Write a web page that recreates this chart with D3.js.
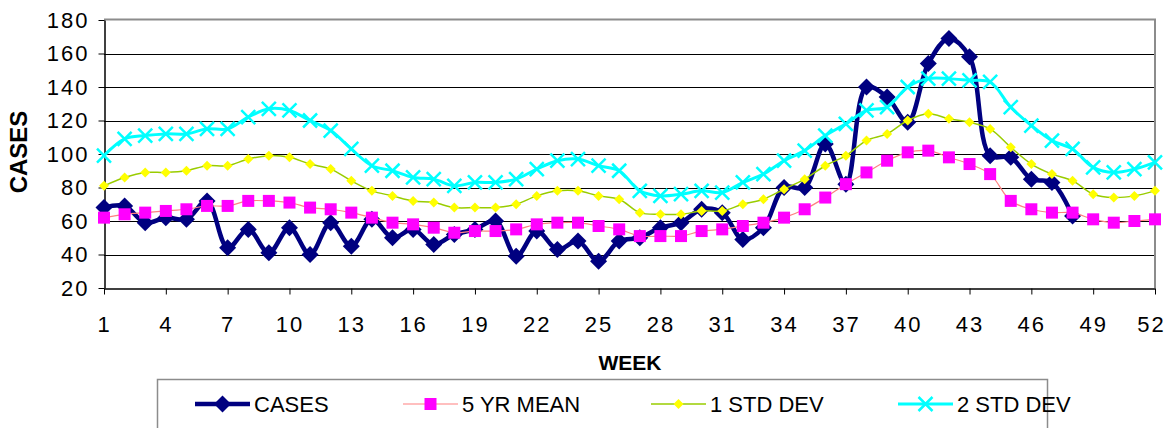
<!DOCTYPE html>
<html>
<head>
<meta charset="utf-8">
<script src="https://cdn.jsdelivr.net/npm/d3@7"></script>
<style>
body { margin: 0; background: #fff; }
text { font-family: "Liberation Sans", Arial, sans-serif; fill: #000; }
</style>
</head>
<body>
<script>
// week numbers and the four series
var weeks = d3.range(1, 53)
var cases = [68, 69, 59, 62, 61, 72, 44, 55, 41, 56, 40, 59, 45, 61, 50, 55, 46, 52, 55, 60,
	39, 54, 43, 48, 36, 48, 50, 56, 59, 67, 65, 49, 56, 80, 80, 106, 82, 140, 134, 119,
	154, 169, 158, 99, 98, 85, 83, 63]
var mean5yr = [62, 64, 65, 66, 67, 69, 69, 72, 72, 71, 68, 67, 65, 62, 59, 58, 56, 53, 54, 54,
	55, 58, 59, 59, 57, 55, 51, 51, 51, 54, 55, 57, 59, 62, 67, 74, 82, 89, 96, 101,
	102, 98, 94, 88, 72, 67, 65, 65, 61, 59, 60, 61]
var std1 = [81, 86, 89, 89, 90, 93, 93, 97, 99, 98, 94, 91, 84, 78, 75, 72, 71, 68, 68, 68,
	70, 75, 78, 78, 75, 73, 65, 64, 64, 66, 66, 70, 73, 79, 85, 93, 99, 108, 112, 120,
	124, 121, 119, 115, 104, 94, 88, 84, 76, 74, 75, 78]
var std2 = [99, 109, 111, 112, 112, 115, 115, 122, 127, 126, 120, 114, 103, 93, 90, 86, 85, 81, 83, 83,
	85, 91, 96, 97, 93, 90, 78, 75, 76, 78, 77, 83, 88, 96, 102, 111, 118, 126, 128, 140,
	145, 145, 144, 143, 128, 117, 108, 103, 92, 89, 91, 95]
var seriesNames = ["CASES", "5 YR MEAN", "1 STD DEV", "2 STD DEV"]
var yTicks = [20, 40, 60, 80, 100, 120, 140, 160, 180]
var xTicks = [1, 4, 7, 10, 13, 16, 19, 22, 25, 28, 31, 34, 37, 40, 43, 46, 49, 52]

var W = 1167, H = 428
// plot area edges (not "top", that one is taken by window.top)
var plotL = 104, plotR = 1155, plotT = 20, plotB = 288

var svg = d3.select("body").append("svg").attr("width", W).attr("height", H)

var x = d3.scaleLinear().domain([1, 52]).range([plotL, plotR])
var y = d3.scaleLinear().domain([20, 180]).range([plotB, plotT])

// gridlines
svg.append("g")
	.selectAll("line")
	.data(yTicks.slice(1, -1))
	.enter()
	.append("line")
	.attr("x1", plotL).attr("x2", plotR)
	.attr("y1", function(d) { return Math.round(y(d)) + 0.5 })
	.attr("y2", function(d) { return Math.round(y(d)) + 0.5 })
	.attr("stroke", "#000").attr("stroke-width", 1)

// plot border top and right (gray)
svg.append("path")
	.attr("d", "M" + plotL + "," + (plotT - 0.5) + "H" + plotR + "V" + plotB)
	.attr("fill", "none").attr("stroke", "#8c8c8c").attr("stroke-width", 2)

// axes
var yAxis = svg.append("g")
	.attr("transform", "translate(" + (plotL + 0.5) + ",0)")
	.call(d3.axisLeft(y).tickValues(yTicks).tickSize(6).tickPadding(10).tickSizeOuter(0))
var xAxis = svg.append("g")
	.attr("transform", "translate(0," + (plotB + 0.5) + ")")
	.call(d3.axisBottom(x).tickValues(xTicks).tickSize(6).tickPadding(22).tickSizeOuter(0))

svg.selectAll(".domain").attr("stroke", "#000").attr("stroke-width", 1.5)
svg.selectAll(".tick line").attr("stroke", "#000")
svg.selectAll(".tick text")
	.style("font-family", "'Liberation Sans', Arial, sans-serif")
	.style("font-size", "22px")
	.style("letter-spacing", "2px")
yAxis.selectAll(".tick text").attr("x", -15)
// last week label sits right at the edge, nudge it in a bit
xAxis.selectAll(".tick text").filter(function(d) { return d === 52 }).attr("dx", -4)

// axis titles
svg.append("text")
	.attr("transform", "translate(27,152) rotate(-90)")
	.attr("text-anchor", "middle")
	.style("font-size", "24px").style("font-weight", "bold")
	.text("CASES")
svg.append("text")
	.attr("x", 630).attr("y", 370)
	.attr("text-anchor", "middle")
	.style("font-size", "21px").style("font-weight", "bold")
	.text("WEEK")

// marker shapes
function diamond(r) {
	return "M0," + -r + "L" + r + ",0L0," + r + "L" + -r + ",0Z"
}
function square(r) {
	return "M" + -r + "," + -r + "H" + r + "V" + r + "H" + -r + "Z"
}
function cross(r) {
	return "M" + -r + "," + -r + "L" + r + "," + r + "M" + -r + "," + r + "L" + r + "," + -r
}

var series = [
	{ name: seriesNames[0], values: cases, line: "#000080", lw: 4.5, mark: diamond(8.5), fill: "#000080", stroke: "none", sw: 0 },
	{ name: seriesNames[1], values: mean5yr, line: "#ff8080", lw: 1.2, mark: square(6), fill: "#ff00ff", stroke: "none", sw: 0 },
	{ name: seriesNames[2], values: std1, line: "#99cc00", lw: 1.5, mark: diamond(5), fill: "#ffff00", stroke: "none", sw: 0 },
	{ name: seriesNames[3], values: std2, line: "#00ffff", lw: 3, mark: cross(7), fill: "none", stroke: "#00ffff", sw: 2.5 }
]

var line = d3.line()
	.x(function(d, i) { return x(weeks[i]) })
	.y(function(d) { return y(d) })
	.curve(d3.curveCatmullRom.alpha(0.5))

series.forEach(function(s) {
	var g = svg.append("g")
	g.append("path")
		.datum(s.values)
		.attr("d", line)
		.attr("fill", "none")
		.attr("stroke", s.line)
		.attr("stroke-width", s.lw)
		.attr("stroke-linejoin", "round")
	g.selectAll("path.m")
		.data(s.values)
		.enter()
		.append("path")
		.attr("class", "m")
		.attr("transform", function(d, i) { return "translate(" + x(weeks[i]) + "," + y(d) + ")" })
		.attr("d", s.mark)
		.attr("fill", s.fill)
		.attr("stroke", s.stroke)
		.attr("stroke-width", s.sw)
})

// legend
var legendX = [195, 403, 651, 898]
var legend = svg.append("g")
legend.append("rect")
	.attr("x", 157.5).attr("y", 379.5)
	.attr("width", 890).attr("height", 70)
	.attr("fill", "#fff").attr("stroke", "#8c8c8c").attr("stroke-width", 1.5)

series.forEach(function(s, i) {
	var lg = legend.append("g").attr("transform", "translate(" + legendX[i] + ",404)")
	lg.append("line")
		.attr("x1", 0).attr("x2", 55)
		.attr("stroke", s.line).attr("stroke-width", s.lw)
	lg.append("path")
		.attr("transform", "translate(27.5,0)")
		.attr("d", s.mark)
		.attr("fill", s.fill)
		.attr("stroke", s.stroke)
		.attr("stroke-width", s.sw)
	lg.append("text")
		.attr("x", 59).attr("y", 8)
		.style("font-size", "22px")
		.text(s.name)
})
</script>
</body>
</html>
